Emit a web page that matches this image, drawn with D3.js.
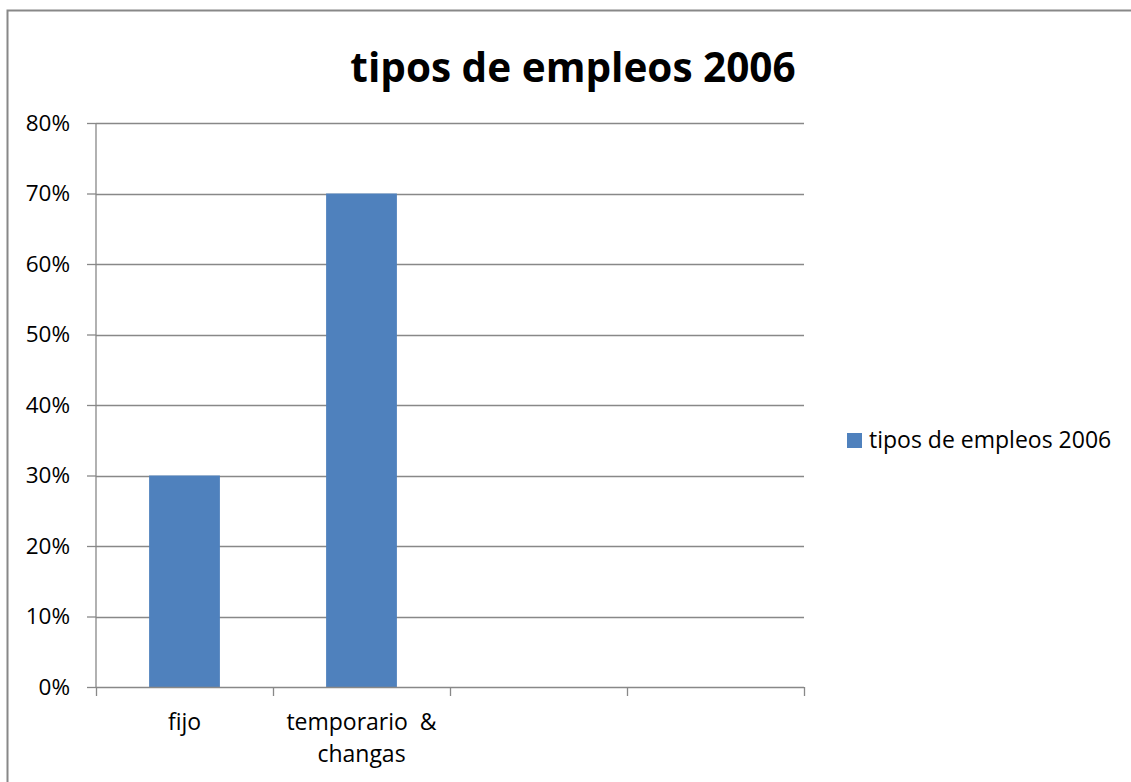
<!DOCTYPE html>
<html>
<head>
<meta charset="utf-8">
<script src="https://cdn.jsdelivr.net/npm/d3@7/dist/d3.min.js"></script>
<style>
  body { margin: 0; background: #fff; }
  text { font-family: "Open Sans", sans-serif; fill: #000; }
</style>
</head>
<body>
<div id="chart"></div>
<script>
var categories = ["fijo", "temporario  & changas", "", " "];
var values = [0.30, 0.70, null, null];
var yTicks = [0, 0.1, 0.2, 0.3, 0.4, 0.5, 0.6, 0.7, 0.8];
var seriesName = "tipos de empleos 2006";
var chartTitle = "tipos de empleos 2006";

var width = 1131, height = 782;
var margin = {top: 123, right: 327, bottom: 95, left: 96},
    w = width - margin.left - margin.right,
    h = height - margin.top - margin.bottom;

var svg = d3.select("#chart").append("svg")
    .attr("width", width)
    .attr("height", height);

// outer chart border
svg.append("rect")
    .attr("x", 7.5).attr("y", 10.5)
    .attr("width", 1140).attr("height", 800)
    .attr("fill", "none")
    .attr("stroke", "#888")
    .attr("stroke-width", 2);

svg.append("text")
    .attr("x", 573).attr("y", 82)
    .attr("text-anchor", "middle")
    .attr("font-size", "40.5px")
    .attr("font-weight", "bold")
    .text(chartTitle);

var g = svg.append("g")
    .attr("transform", "translate(" + margin.left + "," + margin.top + ")");

var x = d3.scaleBand()
    .domain(categories)
    .range([0, w])
    .paddingInner(0.6)
    .paddingOuter(0.3);

var xb = d3.scaleBand().domain(categories).range([0, w]);

var y = d3.scaleLinear()
    .domain([0, 0.8])
    .range([h, 0]);

// gridlines
g.selectAll(".grid")
    .data(yTicks.slice(1))
    .enter().append("line")
    .attr("x1", 0).attr("x2", w)
    .attr("y1", d => Math.round(y(d)) + 0.5)
    .attr("y2", d => Math.round(y(d)) + 0.5)
    .attr("stroke", "#888")
    .attr("stroke-width", 1.3);

// bars
g.selectAll(".bar")
    .data(categories.map((c, i) => ({c: c, v: values[i]})).filter(d => d.v != null))
    .enter().append("rect")
    .attr("class", "bar")
    .attr("x", d => x(d.c))
    .attr("width", x.bandwidth())
    .attr("y", d => y(d.v))
    .attr("height", d => h - y(d.v))
    .attr("fill", "#4f81bd");

// y axis
var yAxis = g.append("g")
    .call(d3.axisLeft(y).tickValues(yTicks).tickFormat(d3.format(".0%")).tickSize(9).tickPadding(17));
yAxis.selectAll("line, path").attr("stroke", "#888").attr("stroke-width", 1.3);
yAxis.select(".domain").attr("d", "M0," + h + "V0");
yAxis.selectAll("text").attr("font-size", "22.5px").attr("font-family", "'Open Sans', sans-serif").attr("fill", "#000");

// x axis (ticks at category boundaries)
var xAxisG = g.append("g").attr("transform", "translate(0," + h + ")");
xAxisG.append("line")
    .attr("x1", 0).attr("x2", w)
    .attr("y1", 0.5).attr("y2", 0.5)
    .attr("stroke", "#888").attr("stroke-width", 1.3);
xAxisG.selectAll(".tk")
    .data(categories.map(c => xb(c)).concat([w]))
    .enter().append("line")
    .attr("x1", d => Math.round(d) + 0.5).attr("x2", d => Math.round(d) + 0.5)
    .attr("y1", 0).attr("y2", 9)
    .attr("stroke", "#888").attr("stroke-width", 1.3);

var labels = xAxisG.selectAll(".lbl")
    .data(categories)
    .enter().append("text")
    .attr("text-anchor", "middle")
    .attr("font-size", "23px")
    .attr("transform", d => "translate(" + (xb(d) + xb.bandwidth() / 2) + ",43)");
labels.each(function(d) {
    var parts = d.trim() === "" ? [] : d.split(" & ");
    var t = d3.select(this);
    if (parts.length === 2) {
        t.append("tspan").attr("x", 0).attr("dy", 0).attr("xml:space", "preserve").text(parts[0] + " &");
        t.append("tspan").attr("x", 0).attr("dy", 32).text(parts[1]);
    } else {
        t.append("tspan").attr("x", 0).text(d);
    }
});

// legend
var legend = svg.append("g").attr("transform", "translate(847,433)");
legend.append("rect")
    .attr("width", 15).attr("height", 15)
    .attr("fill", "#4f81bd");
legend.append("text")
    .attr("x", 22).attr("y", 15)
    .attr("font-size", "23px")
    .text(seriesName);
</script>
</body>
</html>
